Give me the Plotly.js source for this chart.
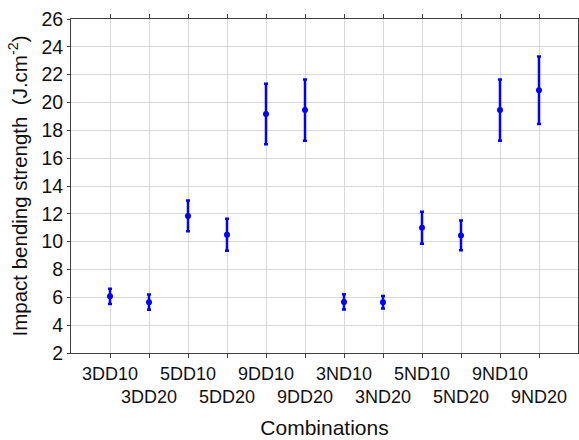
<!DOCTYPE html>
<html>
<head>
<meta charset="utf-8">
<script src="https://cdn.plot.ly/plotly-3.0.1.min.js"></script>
<style>html,body{margin:0;padding:0;background:#fff}#chart{width:579px;height:440px}</style>
</head>
<body>
<div id="chart"></div>
<script>
const categories = ["3DD10","3DD20","5DD10","5DD20","9DD10","9DD20","3ND10","3ND20","5ND10","5ND20","9ND10","9ND20"];
const means = [6.07, 5.65, 11.85, 10.5, 19.17, 19.46, 5.67, 5.65, 11.0, 10.45, 19.46, 20.88];
const errors = [0.55, 0.55, 1.1, 1.15, 2.17, 2.2, 0.55, 0.45, 1.15, 1.07, 2.2, 2.42];
const yTicks = [2,4,6,8,10,12,14,16,18,20,22,24,26];

const positions = categories.map((c, i) => i + 1);
const tickText = categories.map((c, i) => (i % 2 === 1 ? "<br>" + c : c));

const trace = {
  x: positions,
  y: means,
  type: "scatter",
  mode: "markers",
  marker: {color: "#0000ff", size: 6, symbol: "circle"},
  error_y: {type: "data", array: errors, visible: true, color: "#0000ff", thickness: 2.5, width: 2},
  hoverinfo: "none"
};

const fam = "Liberation Sans, Arial, sans-serif";

const layout = {
  width: 579, height: 440,
  margin: {l: 71, r: 1, t: 19, b: 87},
  paper_bgcolor: "#fff", plot_bgcolor: "#fff",
  showlegend: false,
  font: {family: fam, size: 18, color: "#000"},
  xaxis: {
    range: [0, 13],
    tickvals: positions,
    ticktext: tickText,
    tickangle: 0,
    showgrid: true, gridcolor: "#d9d9d9", gridwidth: 1,
    zeroline: false,
    showline: true, linecolor: "#404040", linewidth: 1, mirror: "ticks",
    ticks: "outside", ticklen: 4, tickcolor: "#404040",
    tickfont: {family: fam, size: 18, color: "#111"},
    title: {text: "Combinations", font: {family: fam, size: 21, color: "#111"}, standoff: 14}
  },
  yaxis: {
    range: [2, 26],
    tickvals: yTicks,
    showgrid: true, gridcolor: "#d9d9d9", gridwidth: 1,
    zeroline: false,
    showline: true, linecolor: "#404040", linewidth: 1, mirror: "ticks",
    ticks: "outside", ticklen: 3, tickcolor: "#404040",
    tickfont: {family: fam, size: 19.5, color: "#111"},
    title: {text: "Impact bending strength \u00a0(J.cm<sup>-2</sup>)", font: {family: fam, size: 20.5, color: "#111"}, standoff: 8}
  }
};

Plotly.newPlot("chart", [trace], layout, {staticPlot: true, displayModeBar: false});
</script>
</body>
</html>
